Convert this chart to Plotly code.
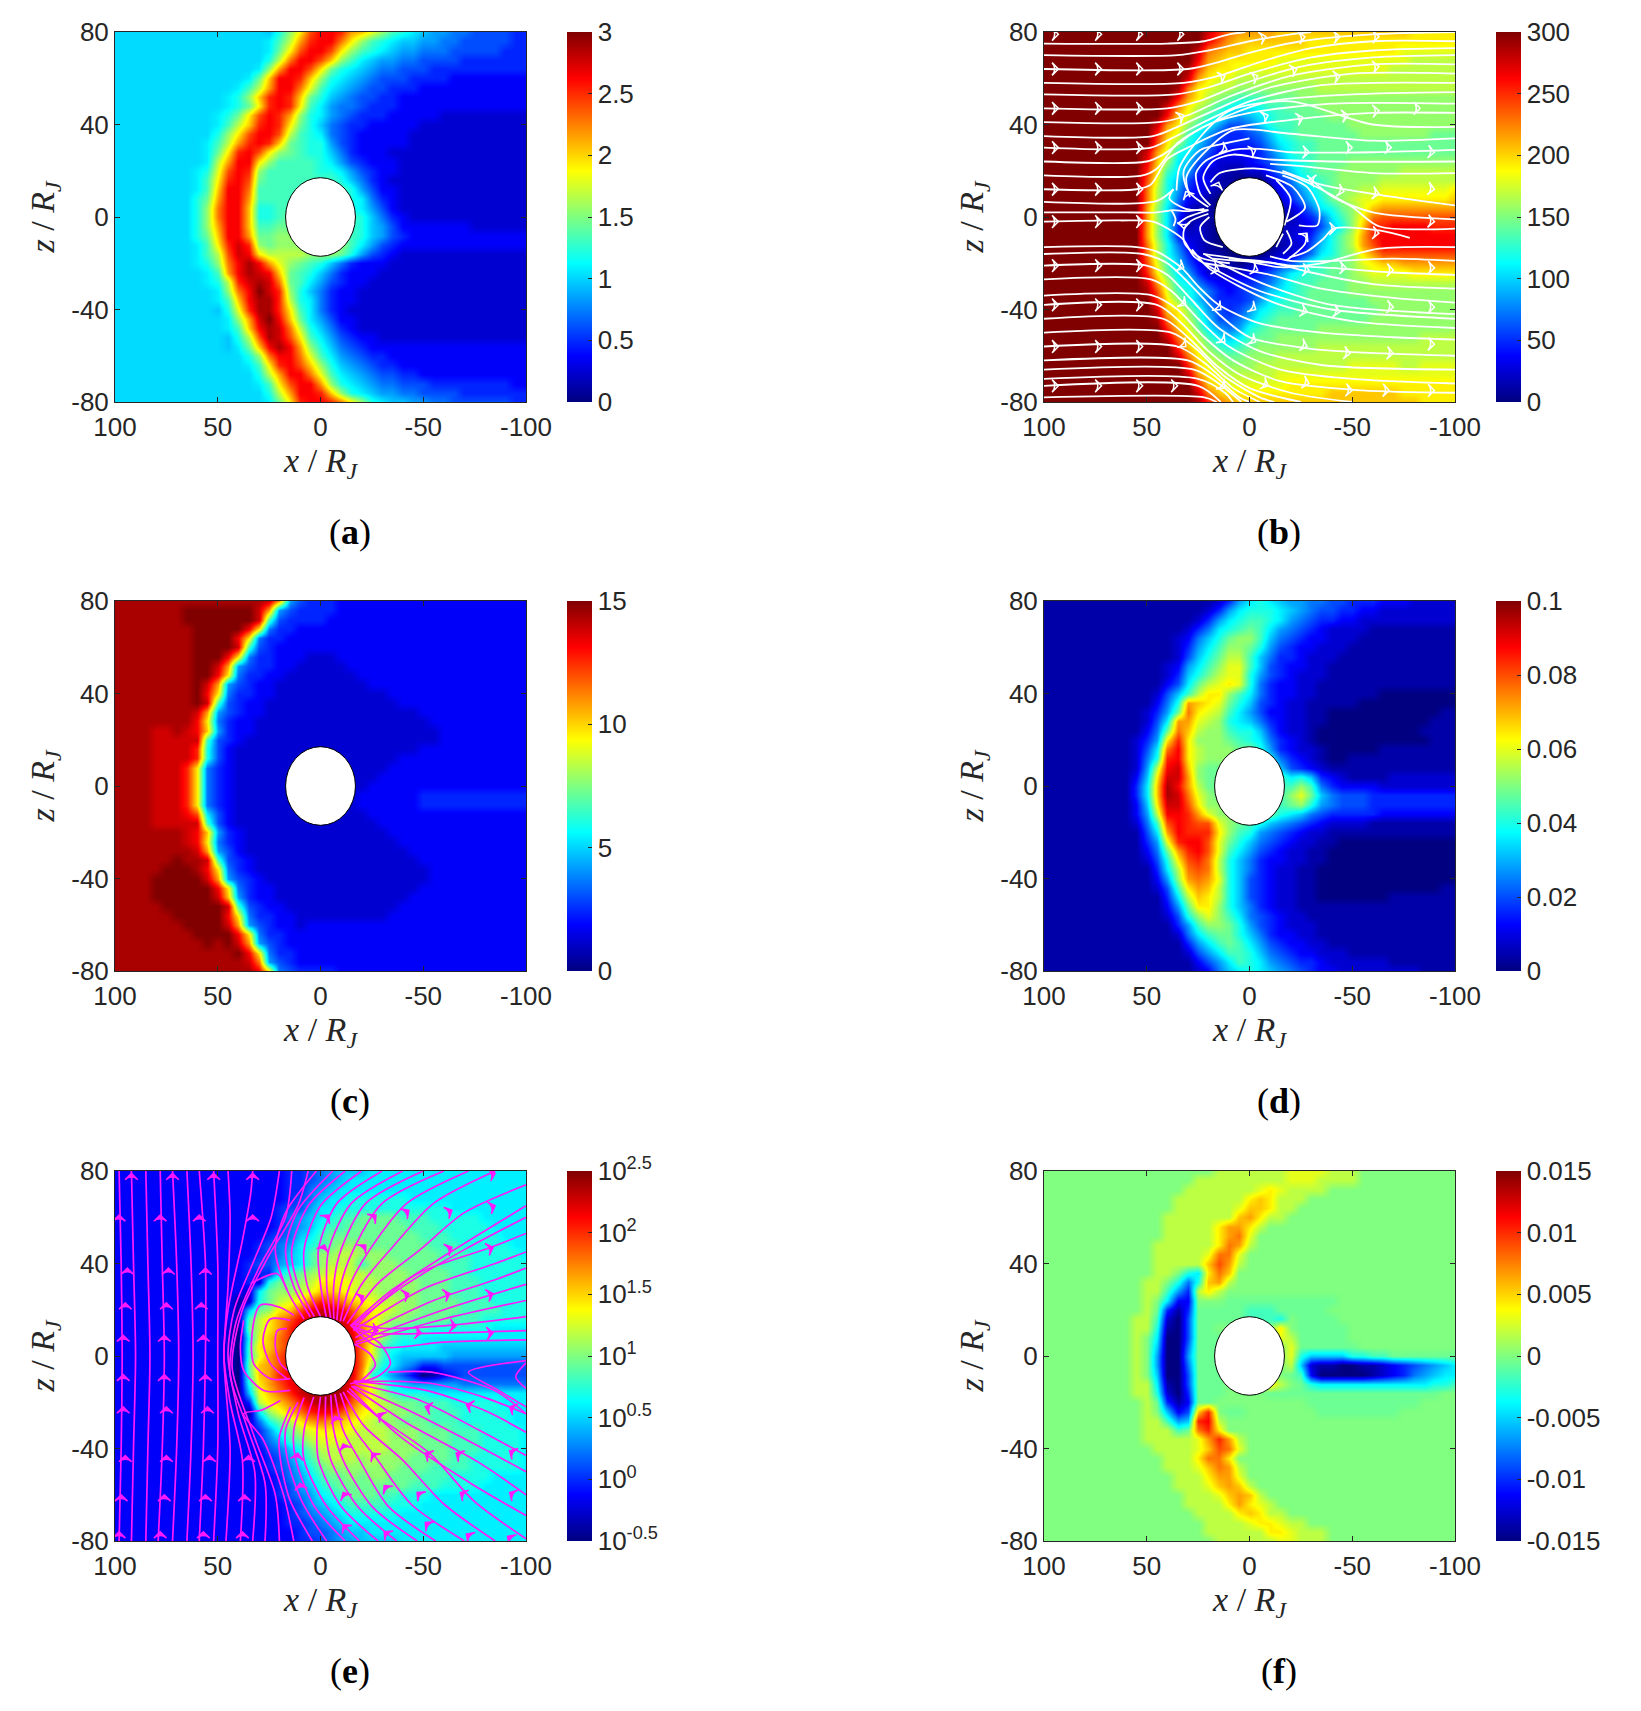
import plotly.graph_objects as go
from plotly.subplots import make_subplots

W, H = 1641, 1711
PAGE = 8  # browser body margin
INK = "#262626"
JET = [
    [0, "#000080"], [0.125, "#0000ff"], [0.375, "#00ffff"],
    [0.625, "#ffff00"], [0.875, "#ff0000"], [1, "#800000"],
]

X_GRID = list(range(100, -101, -5))
Y_GRID = list(range(80, -81, -4))
X_TICKS = [100, 50, 0, -50, -100]
Y_TICKS = [80, 40, 0, -40, -80]

# one letter per cell: a = bottom of the colour bar, z = top, capitals half a step up;
# rows run y = 80 to -80, each row x = 100 to -100 in groups of five
A_ROWS = [
    "IIIII IIIII IIIII iknqu wwvsr pnlkj ihhgg ffffe e",
    "IIIII IIIII IIIII jlosv wwtqn lkjii hhggf ffffe e",
    "IIIII IIIII IIIII jmquw wuqnl kjihh gggff fffee e",
    "IIIII IIIII IIIII kotww urnlj ihhgg ffffe eeeee e",
    "IIIII IIIII IIIIj nswwu qmkji hggff feeee eeeee e",
    "IIIII IIIII IIIjm rwwvr nkjih gfffe eeedd ddddd d",
    "IIIII IIIII IIjlo swwtp ljihg ffeee ddddd ddddd d",
    "IIIII IIIII Ijknr vwvrm kihgf feedd ddddd ddddd d",
    "IIIII IIIII Ijkmq vwvql jhggf eeedd ddddd ddddd d",
    "IIIII IIIII jkmqu wvsnk jhgfe eeddd ddccc ccccc c",
    "IIIII IIIII jlorv wvqmk igfee ddddd ccccc ccccc c",
    "IIIII IIIII knquw wuolk jgfed ddddc ccccc ccccc c",
    "IIIII IIIIj losvw vrmlk khfed ddddc ccccc ccccc c",
    "IIIII IIIIj mqvwu qnmlk kiged ddccc ccccc ccccc c",
    "IIIII IIIIj oswwq nllll kjhfe dddcc ccccc ccccc c",
    "IIIII IIIjk puwvn lllll kkjhf eddcc ccccc ccccc c",
    "IIIII IIIjl qvwum lllll llkig edccc ccccc ccccc c",
    "IIIII IIIjl rwwtl lllll lllkh fddcc ccccc ccccc c",
    "IIIII IIIkm swwsl lllll lllkj gedcc ccccc ccccc c",
    "IIIII IIIkn twwrk kllll lllkj hfdcc ccccc ccccc c",
    "IIIII IIIkn twwrk klmmm mmmlk igedc ccccc ccccc c",
    "IIIII IIIkn swwrl lmmmm mmmlk ihfdd ddddd ccccc c",
    "IIIII IIIkm rwwsm mnnnn nnmlk ihfed ddddd ddddd d",
    "IIIII IIIjl qvxvn mnnnn nnnlj hfedd ddddd ddddd d",
    "IIIII IIIjl ouxwq oooon nnmkh fedcc ccccc ccccc c",
    "IIIII IIIjk ntwyw spnml kiged ddccc ccccc ccccc c",
    "IIIII IIIIj lswyx wrmlk igedd dcccc ccccc ccccc c",
    "IIIII IIIIj kovxy xtmlj hfedd ccccc ccccc ccccc c",
    "IIIII IIIII jntwz xvnki geddc ccccc ccccc ccccc c",
    "IIIII IIIII jlrwy yvokj geddc ccccc ccccc ccccc c",
    "IIIII IIIII ikpvy yvqlj gedcc ccccc ccccc ccccc c",
    "IIIII IIIII Ijnsx zwrmj hfddc ccccc ccccc ccccc c",
    "IIIII IIIII Ijlrw yxtok igedc ccccc ccccc ccccc c",
    "IIIII IIIII Iikou yxuql jhfed dcccc ccccc ccccc c",
    "IIIII IIIII Iijmr wywsn kigfe ddddd ddddd ddddd d",
    "IIIII IIIII IIIkn twwtp ljhgf eeddd ddddd ddddd d",
    "IIIII IIIII IIIjl qvwur nkihg feedd ddddd ddddd d",
    "IIIII IIIII IIIIk oswwt pljih gffee ddddd ddddd d",
    "IIIII IIIII IIIIj lquww snkji hggff feeee eeeed d",
    "IIIII IIIII IIIII kosww vrnkj ihhgg ffffe eeeee e",
    "IIIII IIIII IIIII jmqvw wvtqn kjiih hggff ffffe e",
]

B_ROWS = [
    "zzzzz zzzzz zzzzz zxvts sssrr rrrrr rrrrr rqqqq q",
    "zzzzz zzzzz zzzzz zwusr rrrrr rqqqq qqqqq qqqqq q",
    "zzzzz zzzzz zzzzz xtsrr qqqqq qqqqq qqqqq ppppp p",
    "zzzzz zzzzz zzzzz wsrqq qqqpp ppppp ppppp poooo o",
    "zzzzz zzzzz zzzzy urqqp ppppp ppppp ppppo ooooo o",
    "zzzzz zzzzz zzzzx sqppo ooooo ooooo ooooo ooooo o",
    "zzzzz zzzzz zzzyt qpoon nnnnn nnooo ooooo ooooo o",
    "zzzzz zzzzz zzzws qonml llmmm nnnnn nnnnn nnnnn n",
    "zzzzz zzzzz zzxtq onlkj jkllm mmnnn nnnnn nnnnn n",
    "zzzzz zzzzz zzwrp nlkih ijkll mmmnn nnnnn nnnnn n",
    "zzzzz zzzzz zxsqn ljhff gikll mmmmm nnnnn nnnnn n",
    "zzzzz zzzzz zvrpl jhfee fgikl mmmmm mnnnn nnnmm m",
    "zzzzz zzzzz zuqnk igeee efhjk llmmm mmmmm mmmmm m",
    "zzzzz zzzzz xspkj hfddd degik llmmm mmmmm mmmmm m",
    "zzzzz zzzzz wrnji feccc defhj klmmm nnnnn nnnnn n",
    "zzzzz zzzzz vqljh eccbb ccegi klmmn nnnnn ooooo o",
    "zzzzz zzzzz upkif ddbba aaceg jklmn nnnoo ooooo o",
    "zzzzz zzzzz tokhe dcbba aabdf hjlmn noopp ppppp q",
    "zzzzz zzzzz tokgd cbaaa aaace gikmn oppqq qqqqq r",
    "zzzzz zzzzz snjfc bbaaa aaabc egjkm nprss sssss s",
    "zzzzz zzzzz snjeb bbaaa aaabb degjl nqtuu uuuuu u",
    "zzzzz zzzzz snjeb cbaaa aaabc cdfik nrvvw wwwvv v",
    "zzzzz zzzzz snjec cbaaa aaabc dehkm osvww wwwww w",
    "zzzzz zzzzz tokgd cbaaa aaabc cfikm osuww wwwww w",
    "zzzzz zzzzz tokhe cbbaa aabcc egjkm nqsuu uuuuu u",
    "zzzzz zzzzz uplif dcbba bcdef hklmm npqrr sssss s",
    "zzzzz zzzzz vqmjh ecccc defhj kllmm noppp pqqqq q",
    "zzzzz zzzzz xsokj gedde efgik llmmm nnooo ooooo o",
    "zzzzz zzzzz yuplk igede fgijk lmmmm nnnnn nnnnn n",
    "zzzzz zzzzz zvqnk igeee fhjkl lmmmm mmnnn nnnnn n",
    "zzzzz zzzzz zxrqn khfef hjkll mmmmm mmmnn nnnnn n",
    "zzzzz zzzzz zytqo liffg iklmm mmmmm mmnnn nnnnn n",
    "zzzzz zzzzz zzvrp mjhgh klmmm mmnnn nnnnn nnnnn n",
    "zzzzz zzzzz zzxtq oljij lmmnn nnnnn nnnnn nnooo o",
    "zzzzz zzzzz zzzvr pnlkl mnnnn nnooo ooooo ooooo o",
    "zzzzz zzzzz zzzxt qonmm nnnoo ooooo ooooo ooooo o",
    "zzzzz zzzzz zzzzv rponn noooo ooooo ppppp ooppp p",
    "zzzzz zzzzz zzzzx sqpoo ooopp ppppp ppppp ppppp p",
    "zzzzz zzzzz zzzzz vrqpp ppppq qqqqq qqqqq qqqqq q",
    "zzzzz zzzzz zzzzz xtrqq qqqqq qqqrr rrrrr qqqqq q",
    "zzzzz zzzzz zzzzz yvtsr rrrrr rrrrr rrrrr rrqqq q",
]

C_ROWS = [
    "yyyyy yyyyy yyyyy xshfe eeddd ddddd ddddd ddddd d",
    "yyyyy yyzzz zzzzx shfee eeddd ddddd ddddd ddddd d",
    "yyyyy yyzzz zzzzx lfeee edddd ddddd ddddd ddddd d",
    "yyyyy yyyzz zzzwq geedd ddddd ddddd ddddd ddddd d",
    "yyyyy yyyzz zzwqg eeddd ddddd ddddd ddddd ddddd d",
    "yyyyy yyyzz zzxlf edddd ddddd ddddd ddddd ddddd d",
    "yyyyy yyyzz zwqge edddc ccddd ddddd ddddd ddddd d",
    "yyyyy yyyzz xshfe eddcc cccdd ddddd ddddd ddddd d",
    "yyyyy yyyzz wqgee ddccc ccccd ddddd ddddd ddddd d",
    "yyyyy yyyzx shfed dcccc ccccc ddddd ddddd ddddd d",
    "yyyyy yyyzw qgeed dcccc ccccc ccddd ddddd ddddd d",
    "yyyyy yyyzx lfedd ccccc ccccc cccdd ddddd ddddd d",
    "yyyyy yyyxs hfedd ccccc ccccc ccccc ddddd ddddd d",
    "yyyyy yyywq geddc ccccc ccccc ccccc cdddd ddddd d",
    "yyyyx xyxwr heddc ccccc ccccc ccccc ccddd ddddd d",
    "yyyyx xxxxl fedcc ccccc ccccc ccccc ccddd ddddd d",
    "yyyyx xxxvk fdccc ccccc ccccc ccccc ddddd ddddd d",
    "yyyyx xxxvk fdccc ccccc ccccc cccdd ddddd ddddd d",
    "yyyyx xxvqg edccc ccccc ccccc ccddd ddddd ddddd d",
    "yyyyx xxvqg edccc ccccc ccccc cdddd ddddd ddddd d",
    "yyyyx xxvqg edccc ccccc ccccc ddddd ddddd ddddd d",
    "yyyyx xxvqg edccc ccccc ccccd ddddd eeeee eeeee e",
    "yyyyx xxvqg edccc ccccc ccccd ddddd eeeee eeeee e",
    "yyyyx xxwuj fdccc ccccc ccccc ddddd ddddd ddddd d",
    "yyyyx xxxxl fdccc ccccc ccccc cdddd ddddd ddddd d",
    "yyyyy yyxwr hedcc ccccc ccccc ccddd ddddd ddddd d",
    "yyyyy yyxwq gedcc ccccc ccccc cccdd ddddd ddddd d",
    "yyyyy yyyxs hfdcc ccccc ccccc ccccd ddddd ddddd d",
    "yyyyy yzyyx lfedc ccccc ccccc ccccc ddddd ddddd d",
    "yyyyy zzzyw qgedc ccccc ccccc ccccc cdddd ddddd d",
    "yyyyz zzzzx shfed ccccc ccccc ccccc cdddd ddddd d",
    "yyyyz zzzzz wqged dcccc ccccc ccccc ddddd ddddd d",
    "yyyyz zzzzz xrhed dcccc ccccc ccccd ddddd ddddd d",
    "yyyyy zzzzz zxlfe ddccc ccccc cccdd ddddd ddddd d",
    "yyyyy yzzzz zwqge eddcc ccccc ccddd ddddd ddddd d",
    "yyyyy yyzzz zxshf eddcd ddddd ddddd ddddd ddddd d",
    "yyyyy yyyzz zzwqg eeddd ddddd ddddd ddddd ddddd d",
    "yyyyy yyyyz yzxsh feddd ddddd ddddd ddddd ddddd d",
    "yyyyy yyyyy yyzwq geedd ddddd ddddd ddddd ddddd d",
    "yyyyy yyyyy yyyxt hfedd ddddd ddddd ddddd ddddd d",
    "yyyyy yyyyy yyyyw qgfee eeddd ddddd ddddd ddddd d",
]

D_ROWS = [
    "bbbbb bbbbb bbbbb bbceh jkjih hggff eeedd dcccc c",
    "bbbbb bbbbb bbbbb bcehj kkkji hgffe eddcc ccccc c",
    "bbbbb bbbbb bbbbb cehjk llkjh gfeed dcccc ccccc c",
    "bbbbb bbbbb bbbbc egjkl mljhg fedcc ccbbb bbbbb b",
    "bbbbb bbbbb bbbcd gikmn nligf eddcc cbbbb bbbbb b",
    "bbbbb bbbbb bbbce hjlnn mkhfe ddccc bbbbb bbbbb b",
    "bbbbb bbbbb bbbcf ikmoo ligee dcccb bbbbb bbbbb b",
    "bbbbb bbbbb bbcdh jlnpp lifed dccbb bbbbb bbbbb b",
    "bbbbb bbbbb bbcei kmopp khfed cccbb bbbbb bbbbb b",
    "bbbbb bbbbb bbdfj mopqp kgedd ccbbb bbbbb bbbbb b",
    "bbbbb bbbbb bcfil oqqnl jgedd ccbbb bbbaa aaaaa a",
    "bbbbb bbbbb bdgks rqpmk ifedc cbbbb baaaa aaaaa a",
    "bbbbb bbbbb cehmt qpolj hfddc cbbaa aaaaa aaaab b",
    "bbbbb bbbbb cfjss ponkj igedc cbbaa aaaaa aaabb b",
    "bbbbb bbbbb dgmtr onnlk kifdc cbaaa aaaaa aabbb b",
    "bbbbb bbbbc ehqvq nnnml kjged cbaaa aaaaa aaabb b",
    "bbbbb bbbbc fjtwq onnnm mkhed ccbaa aaabb bbbbb b",
    "bbbbb bbbbc gkvwq onnnn nmjge dcbaa bbbbb bbbbb b",
    "bbbbb bbbbc howxr nmmnn nmkif edcbb bbbbb bbbbb b",
    "bbbbb bbbbd iqxxs nmmmm mmllj kiedc bbbbc ccccc c",
    "bbbbb bbbbe jryws ommmm mmmll nlged dddcc ccccc c",
    "bbbbb bbbbe jryxt pnmmm mmmln pmigf ffeee eeeee e",
    "bbbbb bbbbd iqxxu qnnmm mmmlm nkhgf ffeee eeeee e",
    "bbbbb bbbbd howwv spnnm mmmkj igfee eeedd ddddd d",
    "bbbbb bbbbc gluwv uupnm lkihg fedcc ccbbb bbbbb b",
    "bbbbb bbbbb fjswv vvqnl khgfe dccbb bbbbb bbbbb b",
    "bbbbb bbbbb ehpvw wupmk igfed ccbba aaaaa aaaaa a",
    "bbbbb bbbbb dgmsv wuplj hfedc cbbaa aaaaa aaaaa a",
    "bbbbb bbbbb cfkqu vtoki geddc cbbaa aaaaa aaaaa a",
    "bbbbb bbbbb bejot utoki gedcc bbaaa aaaaa aaaaa a",
    "bbbbb bbbbb bdhns tspki fedcc bbaaa aaaaa aaaaa a",
    "bbbbb bbbbb bcflq sroki fedcc bbaaa aaaaa aaaab b",
    "bbbbb bbbbb bbejo rqoki fedcc bbaaa aaaab bbbbb b",
    "bbbbb bbbbb bbdhm qqnki gedcc bbbbb bbbbb bbbbb b",
    "bbbbb bbbbb bbcfk npnlj gfedc cbbbb bbbbb bbbbb b",
    "bbbbb bbbbb bbbeh lnnmk hfedc ccbbb bbbbb bbbbb b",
    "bbbbb bbbbb bbbcg jlmmk igedd ccbbb bbbbb bbbbb b",
    "bbbbb bbbbb bbbbe hjlml jhfed dccbb bbbbb bbbbb b",
    "bbbbb bbbbb bbbbc fhjll kigfe ddccc bbbbb bbbbb b",
    "bbbbb bbbbb bbbbb dfhjl kjhgf eedcc ccccb bbbbb b",
    "bbbbb bbbbb bbbbb cdgij kjihg feddc ccccc ccbbb b",
]

E_ROWS = [
    "ddddd ddddd ddddd ddeef ghiii jjjjj jjjjj jjjjj j",
    "ddddd ddddd ddddd ddeef ghijj jjjjj jjjjj jjjjj j",
    "ddddd ddddd ddddd ddeeg hijjj jjjjj jjjjj jjjjj j",
    "ddddd ddddd ddddd ddefg ijjkk kkkkj jjjjj jjjjj j",
    "ddddd ddddd ddddd deffh jjkkk kkkkk kkkjj jjjjj j",
    "ddddd ddddd ddddd deghi jkllm mmmll lkkkk kjjjj j",
    "ddddd ddddd ddddd deghi kllmm mmmml llkkk kkjjj j",
    "ddddd ddddd ddddd efgij lmmmm mmmmm lllkk kkkjj j",
    "ddddd ddddd dddde fghjk lmnnn mmmmm mlllk kkkkj j",
    "ddddd ddddd dddde fgijl nnoon nnmmm mmlll kkkkk j",
    "ddddd ddddd dddef fhijl noool nnnmm mmlll kkkkk k",
    "ddddd ddddd dddee ejlmn oppoo nnnnm mmmll kkkkk k",
    "ddddd ddddd dddec kmmno qqqpo onnnn mmmll lkkkk k",
    "ddddd ddddd dddcj mnnop rrqpo onnnn mmmll lkkkk k",
    "ddddd ddddd ddbck mopqt vutrq poonn mmmml llkkk k",
    "ddddd ddddd ddbim nqruw xxwur qponn mmmml lllkk k",
    "ddddd ddddd ddblo qsuwx yyxvs qonnm mmmll lkkkk k",
    "ddddd ddddd dcamo qsvxy yyywt qomll lkkkk kkjjj j",
    "ddddd ddddd dcakp rtvxy yyyxt qnlkk jjjjj jjjjj j",
    "ddddd ddddd dcalq rtvxy yyyxt plkjj jjiii iiiii i",
    "ddddd ddddd dcalp suwxy yyyxt pljii iiihh hhhhh h",
    "ddddd ddddd dcamr suwxy yyyxt nkjhg eefff fffff f",
    "ddddd ddddd dcalr svwxy yyyxs kjhfd abdef fffff f",
    "ddddd ddddd dcakq suwxy yyyws pmjih hhhhg ggggg g",
    "ddddd ddddd dcaip rtvxy yyyvs pnlkk kjjjj jjjjj j",
    "ddddd ddddd ddbeo qrtvx yyxur ponmm lllkk kkkjj j",
    "ddddd ddddd ddcbj nprtv wwusq ponnm mlllk kkkkj j",
    "ddddd ddddd dddcg kmoqs tsrqp onnmm mlllk kkkkj j",
    "ddddd ddddd dddde hkmop qqqpo oonnn mmmll lkkkk j",
    "ddddd ddddd dddde gilmo pppoo oonnn mmmll lkkkk j",
    "ddddd ddddd ddddd fgikm ooooo oonnn mmmll lkkkk j",
    "ddddd ddddd ddddd efhjl nooon onnnm mmmll kkkkk j",
    "ddddd ddddd ddddd efgik mnnnn nnnmm mllll kkkkk j",
    "ddddd ddddd ddddd deghj lmmnm nnmmm lllkk kkjjj j",
    "ddddd ddddd ddddd defhi klmmm mmmml llkkk kjjjj j",
    "ddddd ddddd ddddd defgh jklmm mllkk kjjjj jjjjj j",
    "ddddd ddddd ddddd ddefh ijkll llkkk jjjjj jjjjj j",
    "ddddd ddddd ddddd ddefg hijkk kkkjj jjjjj jjjjj j",
    "ddddd ddddd ddddd ddeef ghijj jjjjj jjjjj jjjjj j",
    "ddddd ddddd ddddd dddef fghii jjjjj jjjjj jjjjj j",
    "ddddd ddddd ddddd dddee fghhi iiijj jjjjj jjjjj j",
]

F_ROWS = [
    "MMMMM MMMMM MMMMM MMooo oooop pppoo oMMMM MMMMM M",
    "MMMMM MMMMM MMMMM ooooo oooop ppooo oMMMM MMMMM M",
    "MMMMM MMMMM MMMMo ooooo opqpo oooMM MMMMM MMMMM M",
    "MMMMM MMMMM MMMoo ooooo qrqoo oMMMM MMMMM MMMMM M",
    "MMMMM MMMMM MMMoo oooop rrqoo MMMMM MMMMM MMMMM M",
    "MMMMM MMMMM MMooo oooor sqooM MMMMM MMMMM MMMMM M",
    "MMMMM MMMMM MMooo ooqss qoMMM MMMMM MMMMM MMMMM M",
    "MMMMM MMMMM MMooo ooqst pMMMM MMMMM MMMMM MMMMM M",
    "MMMMM MMMMM Moooo ooqts oMMMM MMMMM MMMMM MMMMM M",
    "MMMMM MMMMM Moooo opttp MMMMM MMMMM MMMMM MMMMM M",
    "MMMMM MMMMM Moooo oruso MMMMM MMMMM MMMMM MMMMM M",
    "MMMMM MMMMM MooMk jqtrM MMMMM MMMMM MMMMM MMMMM M",
    "MMMMM MMMMM ooMkg krsoM MMMMM MMMMM MMMMM MMMMM M",
    "MMMMM MMMMM oolhe oqoMM MMMMM MMMMM MMMMM MMMMM M",
    "MMMMM MMMMM oMjdd MMMmm mmmmm mmmmM MMMMM MMMMM M",
    "MMMMM MMMMM omebe mmmmm lllmm mmmMM MMMMM MMMMM M",
    "MMMMM MMMMo olcaf mmmmm lllkM mmmmM MMMMM MMMMM M",
    "MMMMM MMMMo okbaf mmMMM MMMqM mmmmm MMMMM MMMMM M",
    "MMMMM MMMMo Mjaaf mmmMM MMMpo mmmmm MMMMM MMMMM M",
    "MMMMM MMMMo Miaag mmmMM MMMMp mmmmm mMMMM MMMMM M",
    "MMMMM MMMMo Mhaah mmmMM MMMMp kiiii kkllm mmmmm m",
    "MMMMM MMMMo Mhaag mmmMM MMMMo icbba abbcd efghi j",
    "MMMMM MMMMo Miaaf mmmMM MMMMm ldaaa aabcd eghij j",
    "MMMMM MMMMo ojbaf mmmMM MMqoM mkjjj jjjjj jjjkk l",
    "MMMMM MMMMo okcae mmmMM MMmmm mmmmm mmmmm mmmmM M",
    "MMMMM MMMMM omebd mmMMM MMMMM Mmmmm mmmmm mmMMM M",
    "MMMMM MMMMM oMidf rvMmm MMMMM MMmmm mmmmm MMMMM M",
    "MMMMM MMMMM oolhi vwoMM MMMMM MMMMM MMMMM MMMMM M",
    "MMMMM MMMMM ooolm tvqMM MMMMM MMMMM MMMMM MMMMM M",
    "MMMMM MMMMM ooooo psvso MMMMM MMMMM MMMMM MMMMM M",
    "MMMMM MMMMM Moooo prutp MMMMM MMMMM MMMMM MMMMM M",
    "MMMMM MMMMM MMooo qttqM MMMMM MMMMM MMMMM MMMMM M",
    "MMMMM MMMMM MMooo prtso MMMMM MMMMM MMMMM MMMMM M",
    "MMMMM MMMMM MMMoo oqssp MMMMM MMMMM MMMMM MMMMM M",
    "MMMMM MMMMM MMMoo oprsr oMMMM MMMMM MMMMM MMMMM M",
    "MMMMM MMMMM MMMMo ooprs roMMM MMMMM MMMMM MMMMM M",
    "MMMMM MMMMM MMMMo oooqs qpoMM MMMMM MMMMM MMMMM M",
    "MMMMM MMMMM MMMMM ooooq rqooM MMMMM MMMMM MMMMM M",
    "MMMMM MMMMM MMMMM Moooo pqqpo oMMMM MMMMM MMMMM M",
    "MMMMM MMMMM MMMMM Moooo ooqqp oooMM MMMMM MMMMM M",
    "MMMMM MMMMM MMMMM MMooo ooopp oooMM MMMMM MMMMM M",
]

# colour bar ranges and tick labels
A_RANGE, A_CB = (0, 3), [0, 0.5, 1, 1.5, 2, 2.5, 3]
B_RANGE, B_CB = (0, 300), [0, 50, 100, 150, 200, 250, 300]
C_RANGE, C_CB = (0, 15), [0, 5, 10, 15]
D_RANGE, D_CB = (0, 0.1), [0, 0.02, 0.04, 0.06, 0.08, 0.1]
E_RANGE, E_CB = (-0.5, 2.5), [-0.5, 0, 0.5, 1, 1.5, 2, 2.5]
F_RANGE, F_CB = (-0.015, 0.015), [-0.015, -0.01, -0.005, 0, 0.005, 0.01, 0.015]
CAPTIONS = ["a", "b", "c", "d", "e", "f"]

# velocity streamlines of panel (b)
STREAMS_B = [
    [(100, 75), (40, 75), (22, 76), (10, 79), (2, 80)],
    [(100, 70), (35, 70), (20, 72), (0, 76), (-20, 79), (-30, 80)],
    [(100, 64), (30, 64), (15, 67), (0, 71), (-25, 76), (-60, 79), (-100, 80)],
    [(100, 58), (32, 58), (15, 61), (-5, 67), (-30, 73), (-60, 76), (-100, 76)],
    [(100, 53), (36, 53), (20, 56), (0, 62), (-30, 69), (-60, 72), (-100, 73)],
    [(100, 47), (40, 47), (25, 50), (5, 57), (-25, 65), (-60, 69), (-100, 70)],
    [(100, 41), (44, 41), (30, 44), (10, 52), (-20, 61), (-60, 66), (-100, 66)],
    [(100, 35), (47, 35), (35, 39), (15, 47), (-10, 56), (-50, 62), (-100, 62)],
    [(100, 30), (48, 30), (38, 34), (20, 42), (0, 50), (-35, 57), (-100, 58)],
    [(100, 24), (50, 24), (42, 27), (28, 36), (10, 44), (-10, 50), (-50, 53), (-100, 54)],
    [(100, 18), (52, 18), (45, 21), (35, 32), (20, 40), (0, 45), (-40, 49), (-100, 49)],
    [(100, 12), (55, 12), (48, 14), (40, 25), (30, 30), (10, 38), (-20, 42), (-60, 45), (-100, 45)],
    [(100, 6.5), (45, 7), (37, 12)],
    [(35.5, 11.5), (34, 21.6), (22.6, 36), (9.6, 46), (-20, 50), (-60, 40), (-100, 39)],
    [(29, 8.6), (30.7, 17.3), (22.6, 27.3), (8, 37.5), (-20, 36), (-60, 33), (-100, 34)],
    [(37, 12), (39, 8), (31, 3.5), (20, 3)],
    [(100, 2), (60, 2), (45, 2), (37, 3), (31, 2.5), (22, 3.5)],
    [(38, 3), (36, -1), (37, -4)],
    [(20, 3), (30, 0), (35, -3)],
    [(100, -2), (63, -1.5), (47, -2), (37, -6.5), (32, -10), (27, -17), (14, -24), (-5, -32), (-40, -40), (-100, -44)],
    [(20, 1.4), (29, -2), (32, -6), (31.5, -11.5), (24, -17.5), (9.6, -20)],
    [(19.5, 0), (24, -4.4), (22, -10), (13, -13)],
    [(19, 5), (24, 10), (26, 19), (21, 24.5), (8, 29), (-5, 29.5), (-20, 28), (-60, 28), (-100, 29)],
    [(20, 4.3), (30, 11.5), (32, 20), (24, 29), (11, 32), (0, 34)],
    [(19, 10), (22.5, 17), (18, 24), (8, 27), (-8, 25), (-40, 24), (-100, 24)],
    [(19, 15), (14.5, 19), (-2, 21), (-18, 18.7), (-28, 15), (-50, 4.3), (-63, -4), (-100, -5)],
    [(-10, 23), (-25, 22), (-60, 19), (-100, 19)],
    [(-16, 20), (-35, 14), (-60, 10), (-100, 5)],
    [(-28, 18), (-40, 9), (-60, 2), (-100, -1)],
    [(-13, 16), (-20, 8), (-17, -3.6)],
    [(-8, 18), (-21, 13), (-27, 4), (-18, -2)],
    [(-16, 18), (-28, 13), (-34, 3), (-33, -3.6), (-24, -3.6)],
    [(-19.6, -17.4), (-27.7, -15), (-36, -9.4), (-41, -5), (-63, -5.8), (-78, -9)],
    [(-27.7, -7.2), (-27, -11.6), (-18, -18.8)],
    [(-18, -5.8), (-20.4, -11.6), (-16.3, -15.9)],
    [(-16.3, -7.2), (-13, -13)],
    [(22.6, -15.9), (6.4, -18), (-14.7, -21.7), (-34, -20.2), (-63, -13.7), (-100, -13)],
    [(100, -13), (55, -13), (45, -15), (33, -22), (25, -30), (15, -38), (-5, -46), (-35, -50), (-70, -52), (-100, -53)],
    [(100, -16), (52, -16), (40, -20), (28, -30), (15, -42), (0, -52), (-30, -57), (-65, -59), (-100, -60)],
    [(100, -21), (50, -21), (40, -25), (28, -36), (15, -48), (-5, -58), (-35, -64), (-100, -66)],
    [(100, -27), (48, -27), (38, -32), (25, -44), (10, -56), (-15, -66), (-50, -70), (-100, -72)],
    [(100, -34), (47, -34), (35, -40), (22, -52), (8, -62), (-15, -71), (-55, -75), (-100, -76)],
    [(100, -38), (45, -38), (33, -46), (20, -58), (5, -68), (-20, -76), (-50, -80)],
    [(100, -44), (42, -44), (30, -52), (15, -65), (0, -74), (-25, -80)],
    [(100, -50), (38, -50), (26, -57), (12, -69), (-5, -78), (-12, -80)],
    [(100, -56), (35, -56), (22, -63), (8, -74), (-5, -80)],
    [(100, -62), (30, -62), (18, -68), (5, -78), (0, -80)],
    [(100, -66), (27, -66), (15, -72), (4, -80)],
    [(100, -70), (25, -70), (12, -76), (8, -80)],
    [(100, -73), (25, -73), (14, -80)],
    [(100, -78), (22, -78), (16, -80)],
    [(28, -14), (20, -22), (5, -30), (-15, -38), (-50, -45), (-100, -48)],
    [(22, -16), (10, -22), (-10, -30), (-40, -38), (-100, -42)],
    [(22, -20), (8, -22), (-10, -25), (-35, -31), (-70, -35), (-100, -37)],
    [(18, -18), (5, -19), (-12, -20), (-30, -24), (-60, -29), (-100, -31)],
    [(10, -18), (-5, -19), (-20, -21), (-40, -22), (-70, -24), (-100, -25)],
    [(-10, -17), (-20, -19), (-40, -19), (-70, -18), (-100, -19)],
]

ARROWS_B = [
    (93, 79, 90), (72, 79, 90), (52, 79, 90), (32, 79, 90),
    (93, 64, 90), (72, 64, 90), (52, 64, 90), (32, 64, 90),
    (93, 47, 90), (72, 47, 90), (52, 47, 90),
    (93, 30, 90), (72, 30, 90), (52, 30, 90),
    (93, 12, 90), (72, 12, 90), (52, 12, 90),
    (93, -2, 90), (72, -2, 90), (52, -2, 90),
    (93, -21, 90), (72, -21, 90), (52, -21, 90),
    (93, -38, 90), (72, -38, 90), (52, -38, 90),
    (93, -56, 90), (72, -56, 90), (52, -56, 90),
    (93, -73, 90), (72, -73, 90), (52, -73, 90), (35, -73, 90),
    (-8, 78, 75), (-27, 78, 80), (-44, 78, 85), (-63, 78, 88),
    (12, 61, 70), (-4, 61, 70), (-23, 64, 72), (-44, 61, 80), (-63, 65, 85),
    (32, 44, 65), (-9, 44, 70), (-26, 43, 75), (-48, 44, 82), (-63, 46, 86), (-83, 47, 90),
    (11, 29, 110), (-3, 29, 70), (-29, 28, 92), (-50, 30, 90), (-69, 30, 92), (-90, 28, 95),
    (-46, 11, 105), (-63, 10, 100), (-90, 12, 98), (-29, 16, 280),
    (-90, -2, 95), (-63, -7, 95), (-42, -5, 90), (-28, -7, 40),
    (31, 11, 330), (15, 15, 20), (32, -5, 180),
    (32, -22, 115), (15, -23, 110), (-4, -23, 110), (-29, -23, 95), (-47, -22, 92), (-70, -23, 92), (-90, -22, 92),
    (31, -38, 125), (14, -40, 130), (-3, -40, 120), (-28, -41, 105), (-44, -41, 100), (-70, -39, 95), (-90, -39, 92),
    (31, -56, 130), (12, -54, 130), (-3, -54, 120), (-28, -56, 108), (-49, -59, 98), (-70, -59, 95), (-90, -55, 92),
    (12, -74, 130), (-9, -73, 115), (-29, -72, 105), (-50, -75, 95), (-68, -75, 92), (-90, -75, 90),
]

# field lines of panel (e)
STREAMS_E = [
    [(98, -80), (97, -40), (96.5, 0), (97, 40), (98, 80)],
    [(92, -80), (91, -40), (90, 0), (91, 40), (92, 80)],
    [(85, -80), (84, -40), (83, 0), (84, 40), (85, 80)],
    [(79, -80), (77, -40), (76, 0), (77, 40), (78, 80)],
    [(72, -80), (70, -40), (69, 0), (70, 40), (72, 80)],
    [(65, -80), (63, -40), (62, 0), (63, 40), (65, 80)],
    [(59, -80), (57, -40), (56, 0), (56, 40), (59, 80)],
    [(52, -80), (50, -40), (50, 0), (50, 40), (52, 80)],
    [(46, -80), (44, -40), (47, 0), (45, 30), (44, 60), (45, 80)],
    [(39, -80), (38, -45), (44, -20), (47, 0), (45, 20), (38, 50), (34, 70), (33, 80)],
    [(33, -80), (32, -50), (40, -25), (45, 0), (42, 20), (33, 40), (24, 60), (20, 80)],
    [(27, -80), (27, -55), (36, -30), (44, -8), (41, 15), (30, 38), (17, 60), (14, 80)],
    [(20, -80), (22, -60), (33, -33), (43, -5), (38, 20), (26, 42), (11, 65), (6, 80)],
    [(13, -80), (18, -60), (28, -36), (37.4, -25), (29, -23.5), (19.5, -19.2)],
    [(8, 16), (16, 28), (22, 46), (17, 62), (2, 80)],
    [(5, 17), (13, 30), (17, 46), (11, 63), (-6, 80)],
    [(3, 17), (11, 31), (14, 46), (6, 65), (-12, 80)],
    [(0, 17), (6.6, 31), (8, 46), (0, 65), (-20, 80)],
    [(-3, 16), (0, 31), (1, 46), (-8, 66), (-30, 80)],
    [(-5, 16), (-3, 31), (-4, 46), (-15, 66), (-40, 80)],
    [(-6.5, 16), (-6.5, 31), (-10, 46), (-22, 66), (-50, 80)],
    [(-8, 15.5), (-10, 31), (-16, 46), (-30, 66), (-60, 80)],
    [(-9.6, 15), (-14.5, 31), (-24, 46), (-42, 66), (-72, 80)],
    [(-11, 15), (-20, 31), (-35, 47), (-55, 66), (-85, 80)],
    [(-13, 14), (-27.5, 31), (-48.5, 46), (-70, 62), (-100, 74)],
    [(-14.5, 13), (-34, 28), (-61.5, 44), (-100, 65)],
    [(-15, 13), (-40, 30), (-70, 46), (-100, 60)],
    [(-16, 12), (-46, 35), (-83, 47), (-100, 53)],
    [(-16, 11), (-50, 29), (-85, 40), (-100, 45)],
    [(-17, 8), (-55, 24), (-85, 33), (-100, 38)],
    [(-17, 6), (-60, 20), (-100, 31)],
    [(-17, 5), (-60, 16), (-100, 24)],
    [(-16, 14), (-30, 12), (-60, 13), (-100, 17)],
    [(-16, 13), (-25, 10), (-60, 10), (-100, 11)],
    [(-15, 13), (-28, 4), (-60, 6), (-100, 7)],
    [(16.3, 11.8), (21, 11), (22, 4), (19.5, -3.3), (14.7, -7)],
    [(14.7, 15.4), (24.4, 16), (28, 6.8), (24.4, -3.3), (16.3, -9.8)],
    [(13, 17.6), (19.5, 21), (29.3, 22), (33.3, 9.7), (32.5, -3.3), (24.4, -9.8), (14.7, -9.8)],
    [(16.3, 28.4), (21, 35.6), (34, 31.3)],
    [(37.4, 15.4), (39, 3.9), (37.4, -6.2), (27.6, -14.9), (14.7, -14.9)],
    [(-17, 11.8), (-29, 5.3), (-34, -3.3), (-27.5, -9), (-14.5, -12)],
    [(-16, 5.3), (-24, 1), (-26.7, -4), (-19.4, -11)],
    [(-100, -2), (-72, -7), (-85, -14), (-100, -22)],
    [(-100, -3), (-95, -9), (-100, -14)],
    [(14.6, -22), (20, -35), (19.5, -45), (15, -62), (4, -80)],
    [(11, -20), (17, -32), (16, -45), (9, -63), (-3, -80)],
    [(8, -18), (13, -32), (12, -45), (3, -65), (-12, -80)],
    [(3.3, -17.7), (8, -32), (8, -45), (-3, -65), (-19, -80)],
    [(0, -17.7), (1.7, -32), (1, -45), (-10, -65), (-28, -80)],
    [(-2.5, -17.5), (-2.5, -32), (-5, -45), (-18, -65), (-37, -80)],
    [(-5, -17), (-6.4, -32), (-11, -45), (-25, -65), (-47, -80)],
    [(-7, -16.5), (-11, -32), (-19, -45), (-33, -65), (-56, -80)],
    [(-9.6, -16), (-16, -31), (-27, -44), (-44, -64), (-70, -80)],
    [(-11, -15.5), (-21, -30), (-40, -45), (-60, -64), (-85, -80)],
    [(-13, -15), (-27.5, -26), (-53, -42), (-75, -63), (-100, -79)],
    [(-14, -14), (-39, -35), (-73, -55), (-100, -69)],
    [(-15, -13), (-42, -29), (-77, -46), (-100, -60)],
    [(-16, -13), (-44, -24), (-77, -39), (-100, -50)],
    [(-17, -12), (-48, -19), (-77, -32), (-100, -43)],
    [(-17, -11), (-52, -15), (-81, -24), (-100, -33)],
    [(-16, -11), (-40, -11), (-55, -12), (-80, -18), (-100, -25)],
    [(-33, -7), (-54, -7), (-85, -15), (-100, -25)],
]

ARROWS_E = [
    (92, 79, 0), (72, 79, 0), (52, 79, 0), (33, 79, 0),
    (98, 61, 0), (78, 61, 0), (59, 61, 0), (33, 61, 0),
    (94, 38, 0), (74, 38, 0), (56, 38, 0), (95, 23, 0), (75, 23, 0), (58, 23, 0),
    (96, 9, 0), (76, 9, 0), (57, 9, 0), (96, -8, 0), (76, -8, 0), (56, -8, 0),
    (96, -22, 0), (75, -22, 0), (55, -22, 0), (95, -43, 0), (75, -43, 0), (54, -43, 0), (35, -43, 0),
    (97, -60, 0), (76, -60, 0), (56, -60, 0), (37, -60, 0),
    (98, -76, 0), (78, -76, 0), (57, -76, 0), (38, -76, 0),
    (-85, 79, 75), (-85, 65, 70), (-84, 47, 70), (-84, 27, 72), (-84, 10, 85),
    (-64, 63, 65), (-64, 47, 65), (-63, 27, 72), (-66, 13, 95),
    (-43, 63, 55), (-43, 27, 70), (-49, 10, 95), (-27, 61, 50), (-22, 48, 45), (-21, 26, 60), (-28, 11, 100),
    (-4, 61, 40), (-2, 48, 20),
    (-92, -22, 295), (-71, -21, 290), (-51, -22, 285), (-28, -25, 305), (-7, -26, 340),
    (-92, -41, 300), (-66, -42, 300), (-51, -42, 300), (-25, -42, 320), (-11, -38, 340), (11, -42, 10),
    (-92, -59, 300), (-68, -59, 300), (-47, -59, 310), (-31, -56, 320), (-11, -59, 330), (10, -55, 350),
    (-91, -78, 305), (-71, -77, 305), (-51, -72, 310), (-31, -76, 310), (-11, -73, 320),
]

PLOT_W, PLOT_H = 411, 370
COLS = [115, 1044]
ROWS = [32, 601, 1171]
CB_GAP, CB_W = 41, 25


def decode(rows, rng):
    z = []
    for row in rows:
        cells = row.replace(" ", "")
        cells = (cells + cells[-1] * 41)[:41]
        levels = [(ord(c.lower()) - 97 + (0.5 if c.isupper() else 0)) / 25 for c in cells]
        z.append([rng[0] + f * (rng[1] - rng[0]) for f in levels])
    return z


def flatten(lines):
    xs, ys = [], []
    for line in lines:
        xs += [p[0] for p in line] + [None]
        ys += [p[1] for p in line] + [None]
    return xs, ys


def cb_label(v):
    return f"10<sup>{v:g}</sup>"


panels = [
    (A_ROWS, A_RANGE, A_CB), (B_ROWS, B_RANGE, B_CB),
    (C_ROWS, C_RANGE, C_CB), (D_ROWS, D_RANGE, D_CB),
    (E_ROWS, E_RANGE, E_CB), (F_ROWS, F_RANGE, F_CB),
]

page_w, page_h = W - 2 * PAGE, H - 2 * PAGE
fig = make_subplots(rows=3, cols=2)
font = dict(family="Liberation Sans, Arial", size=26, color=INK)
label_font = dict(family="Liberation Serif, DejaVu Serif", size=34, color=INK)

for i, (rows, rng, cb) in enumerate(panels):
    r, c = i // 2 + 1, i % 2 + 1
    left = COLS[c - 1] - PAGE
    top = ROWS[r - 1] - PAGE
    is_log = rows is E_ROWS
    fig.add_trace(go.Heatmap(
        x=X_GRID, y=Y_GRID, z=decode(rows, rng),
        zmin=rng[0], zmax=rng[1], colorscale=JET, zsmooth="best",
        colorbar=dict(
            x=(left + PLOT_W + CB_GAP) / page_w, xanchor="left", xpad=0,
            y=1 - (top + PLOT_H / 2) / page_h, yanchor="middle", ypad=0,
            len=PLOT_H / page_h, thickness=CB_W, outlinewidth=0,
            tickvals=cb, ticktext=[cb_label(v) if is_log else f"{v:g}" for v in cb],
            ticks="inside", ticklen=4, tickcolor=INK, tickfont=font,
        ),
        hoverinfo="skip",
    ), row=r, col=c)
    fig.update_xaxes(
        domain=[left / page_w, (left + PLOT_W) / page_w],
        range=[100, -100], tickvals=X_TICKS, ticktext=[str(v) for v in X_TICKS],
        ticks="inside", ticklen=5, automargin=False, ticklabelstandoff=2,
        tickcolor=INK, tickfont=font, showgrid=False, zeroline=False,
        showline=True, linecolor=INK, linewidth=1, mirror="ticks",
        title=dict(text="<i>x</i> / <i>R<sub>J</sub></i>", font=label_font, standoff=6),
        row=r, col=c,
    )
    fig.update_yaxes(
        domain=[1 - (top + PLOT_H) / page_h, 1 - top / page_h],
        range=[-80, 80], tickvals=Y_TICKS, ticktext=[str(v) for v in Y_TICKS],
        ticks="inside", ticklen=5, automargin=False,
        tickcolor=INK, tickfont=font, showgrid=False, zeroline=False,
        showline=True, linecolor=INK, linewidth=1, mirror="ticks",
        title=dict(text="<i>z</i> / <i>R<sub>J</sub></i>", font=label_font, standoff=6),
        row=r, col=c,
    )
    # planet and inner boundary masked out in the simulation
    fig.add_shape(
        type="circle", x0=17, x1=-17, y0=-17, y1=17,
        fillcolor="white", line=dict(color="black", width=1),
        row=r, col=c,
    )
    fig.add_annotation(
        text=f"(<b>{CAPTIONS[i]}</b>)", xref="paper", yref="paper",
        x=(left + PLOT_W / 2 + 29) / page_w, y=1 - (top + PLOT_H + 130) / page_h,
        showarrow=False, xanchor="center", yanchor="middle",
        font=dict(family="Liberation Serif, DejaVu Serif", size=36, color="black"),
    )

for lines, arrows, colour, width, symbol, size, r, c in [
    (STREAMS_B, ARROWS_B, "white", 1.8, "arrow-wide-open", 9, 1, 2),
    (STREAMS_E, ARROWS_E, "#ff19ff", 1.7, "arrow-wide", 9, 3, 1),
]:
    xs, ys = flatten(lines)
    fig.add_trace(go.Scatter(
        x=xs, y=ys, mode="lines", line=dict(color=colour, width=width, shape="spline", smoothing=0.8),
        hoverinfo="skip", showlegend=False,
    ), row=r, col=c)
    fig.add_trace(go.Scatter(
        x=[a[0] for a in arrows], y=[a[1] for a in arrows], mode="markers",
        marker=dict(symbol=symbol, angle=[a[2] for a in arrows], size=size,
                    color=colour, line=dict(color=colour, width=1.5)),
        hoverinfo="skip", showlegend=False,
    ), row=r, col=c)

fig.update_layout(
    width=page_w, height=page_h, margin=dict(l=0, r=0, t=0, b=0),
    paper_bgcolor="white", plot_bgcolor="white", showlegend=False,
)
fig.write_html("out.html")
